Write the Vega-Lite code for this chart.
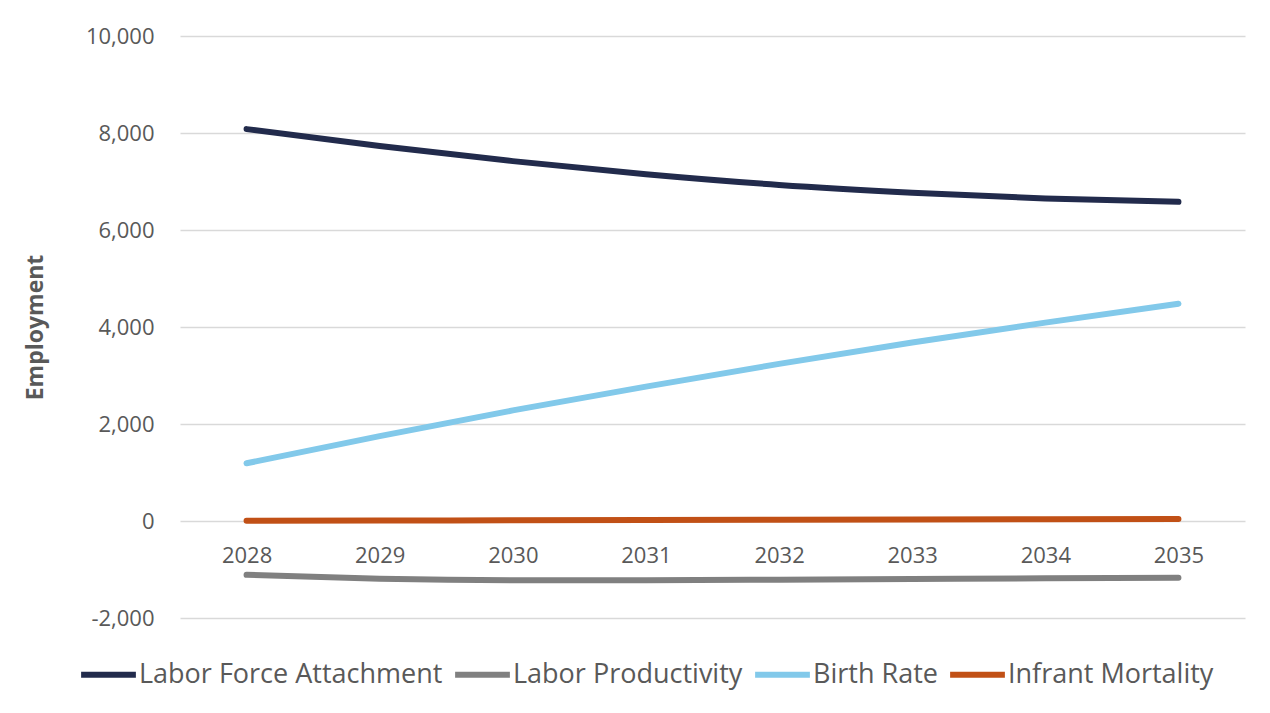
{
  "$schema": "https://vega.github.io/schema/vega-lite/v6.json",
  "width": 1065,
  "height": 582,
  "autosize": {"type": "none"},
  "padding": {"left": 180, "top": 36, "right": 25, "bottom": 95},
  "background": "white",
  "config": {
    "font": "Open Sans",
    "view": {"stroke": null}
  },
  "data": {
    "values": [
      {"year": "2028", "series": "Labor Force Attachment", "value": 8080},
      {"year": "2029", "series": "Labor Force Attachment", "value": 7730},
      {"year": "2030", "series": "Labor Force Attachment", "value": 7420},
      {"year": "2031", "series": "Labor Force Attachment", "value": 7150},
      {"year": "2032", "series": "Labor Force Attachment", "value": 6930},
      {"year": "2033", "series": "Labor Force Attachment", "value": 6770},
      {"year": "2034", "series": "Labor Force Attachment", "value": 6650},
      {"year": "2035", "series": "Labor Force Attachment", "value": 6580},
      {"year": "2028", "series": "Labor Productivity", "value": -1110},
      {"year": "2029", "series": "Labor Productivity", "value": -1190},
      {"year": "2030", "series": "Labor Productivity", "value": -1220},
      {"year": "2031", "series": "Labor Productivity", "value": -1220},
      {"year": "2032", "series": "Labor Productivity", "value": -1210},
      {"year": "2033", "series": "Labor Productivity", "value": -1195},
      {"year": "2034", "series": "Labor Productivity", "value": -1180},
      {"year": "2035", "series": "Labor Productivity", "value": -1170},
      {"year": "2028", "series": "Birth Rate", "value": 1190},
      {"year": "2029", "series": "Birth Rate", "value": 1750},
      {"year": "2030", "series": "Birth Rate", "value": 2280},
      {"year": "2031", "series": "Birth Rate", "value": 2770},
      {"year": "2032", "series": "Birth Rate", "value": 3240},
      {"year": "2033", "series": "Birth Rate", "value": 3680},
      {"year": "2034", "series": "Birth Rate", "value": 4090},
      {"year": "2035", "series": "Birth Rate", "value": 4480},
      {"year": "2028", "series": "Infrant Mortality", "value": 5},
      {"year": "2029", "series": "Infrant Mortality", "value": 10},
      {"year": "2030", "series": "Infrant Mortality", "value": 15},
      {"year": "2031", "series": "Infrant Mortality", "value": 20},
      {"year": "2032", "series": "Infrant Mortality", "value": 25},
      {"year": "2033", "series": "Infrant Mortality", "value": 30},
      {"year": "2034", "series": "Infrant Mortality", "value": 35},
      {"year": "2035", "series": "Infrant Mortality", "value": 40}
    ]
  },
  "mark": {"type": "line", "strokeWidth": 6, "strokeCap": "round", "interpolate": "monotone"},
  "encoding": {
    "x": {
      "field": "year",
      "type": "ordinal",
      "scale": {"type": "point", "padding": 0.5},
      "axis": {
        "title": null,
        "labelAngle": 0,
        "domain": false,
        "ticks": false,
        "grid": false,
        "offset": -97,
        "labelPadding": 24,
        "labelFontSize": 22,
        "labelColor": "#595959",
        "labelFont": "Open Sans"
      }
    },
    "y": {
      "field": "value",
      "type": "quantitative",
      "scale": {"domain": [-2000, 10000], "nice": false, "zero": false},
      "axis": {
        "title": "Employment",
        "titleFontSize": 23,
        "titleFontWeight": "bold",
        "titleColor": "#595959",
        "titleFont": "Open Sans",
        "titlePadding": 38,
        "values": [-2000, 0, 2000, 4000, 6000, 8000, 10000],
        "labelExpr": "replace(format(datum.value, ',.0f'), '\u2212', '-')",
        "domain": false,
        "ticks": false,
        "labelPadding": 26,
        "labelFontSize": 22,
        "labelColor": "#595959",
        "labelFont": "Open Sans",
        "gridColor": "#D9D9D9",
        "gridWidth": 1.5
      }
    },
    "color": {
      "field": "series",
      "type": "nominal",
      "scale": {
        "domain": ["Labor Force Attachment", "Labor Productivity", "Birth Rate", "Infrant Mortality"],
        "range": ["#222B4C", "#808080", "#82C9EA", "#C15016"]
      },
      "legend": {
        "title": null,
        "orient": "none",
        "legendX": -102,
        "legendY": 608,
        "direction": "horizontal",
        "symbolType": "stroke",
        "symbolSize": 3000,
        "symbolStrokeWidth": 6,
        "labelFontSize": 27,
        "labelColor": "#595959",
        "labelFont": "Open Sans",
        "labelOffset": 0,
        "columnPadding": 0,
        "labelLimit": 500
      }
    }
  }
}
